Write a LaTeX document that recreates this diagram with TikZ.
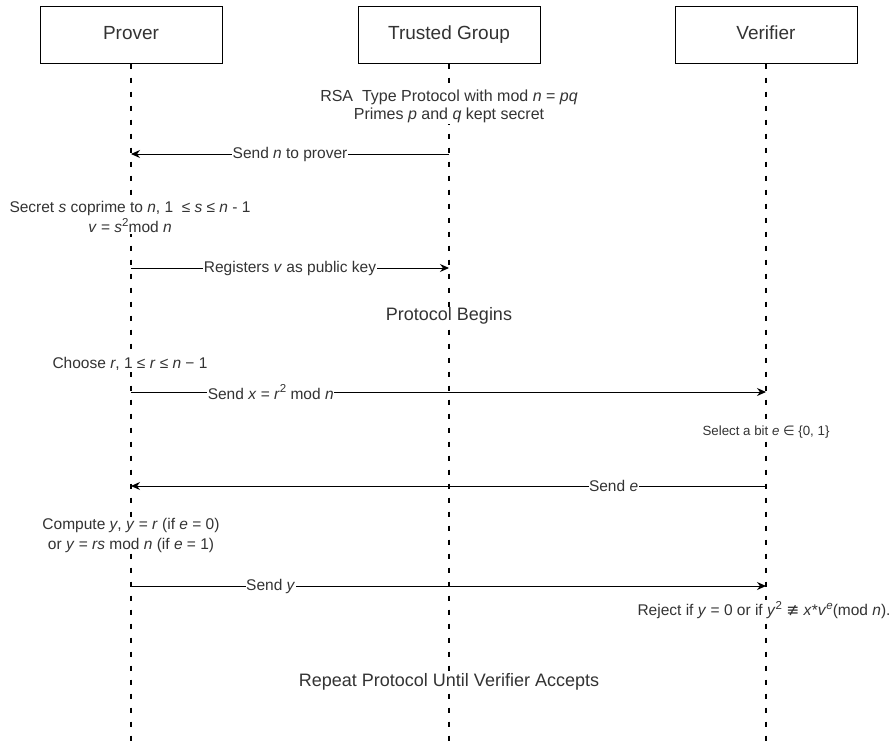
\documentclass[tikz,border=0pt]{standalone}
\usepackage{fontspec}
\setmainfont{Liberation Sans}
\newfontfamily\symfont{DejaVu Sans}
\usetikzlibrary{arrows.meta}
\definecolor{txtgray}{HTML}{333333}
\newcommand{\powr}[1]{\raisebox{0.42em}{\fontsize{11.5}{12}\selectfont #1}}

\tikzset{
	actor/.style={draw, line width=1pt, minimum width=182pt, minimum height=57pt,
		text height=14pt, text depth=4pt, text=txtgray, font=\fontsize{19}{22}\selectfont},
	lifeline/.style={line width=2pt, dash pattern=on 5pt off 9pt},
	msg/.style={line width=1pt, -{Stealth[length=9pt,width=8pt]}},
	msglabel/.style={fill=white, inner sep=0.5pt, text=txtgray,
		font=\fontsize{15.5}{18}\selectfont},
	note/.style={fill=white, align=center, inner sep=1pt, text=txtgray,
		font=\fontsize{15.5}{20}\selectfont},
	heading/.style={fill=white, inner sep=1pt, text=txtgray,
		font=\fontsize{18}{21}\selectfont}
}

\begin{document}
\begin{tikzpicture}[x=1pt, y=-1pt]
	\useasboundingbox (0,0) rectangle (896,747);
	% participants
	\node[actor] (prover) at (131,34.5) {Prover};
	\node[actor] (trusted) at (449,34.5) {Trusted Group};
	\node[actor] (verifier) at (766,34.5) {Verifier};
	\coordinate (proverend) at (131,747);
	\coordinate (trustedend) at (449,747);
	\coordinate (verifierend) at (766,747);
	\draw[lifeline] (prover) -- (proverend);
	\draw[lifeline] (trusted) -- (trustedend);
	\draw[lifeline] (verifier) -- (verifierend);
	% setup
	\node[note, font=\fontsize{16}{17.5}\selectfont] (rsa) at (449,106.5)
		{RSA\ \ Type Protocol with mod \textit{n} = \textit{pq}\\Primes \textit{p} and \textit{q} kept secret};
	\coordinate (t1) at (449,154);
	\coordinate (p1) at (131,154);
	\draw[msg] (t1) -- node[msglabel] {Send \textit{n} to prover} (p1);
	\node[note] (secret) at (130,217)
		{Secret \textit{s} coprime to \textit{n}, 1\ \ ≤ \textit{s} ≤ \textit{n} - 1\\\textit{v} = \textit{s}\powr{2}mod \textit{n}};
	\coordinate (p2) at (131,268);
	\coordinate (t2) at (449,268);
	\draw[msg] (p2) -- node[msglabel] {Registers \textit{v} as public key} (t2);
	\node[heading] (begins) at (449,316) {Protocol Begins};
	% one round
	\node[note] (choose) at (130,364) {Choose \textit{r}, 1 ≤ \textit{r} ≤ \textit{n} − 1};
	\coordinate (p3) at (131,392);
	\coordinate (v3) at (766,392);
	\draw[msg] (p3) -- node[msglabel, pos=0.22] {Send \textit{x} = \textit{r}\powr{2} mod \textit{n}} (v3);
	\node[note, font=\fontsize{13.3}{16}\selectfont] (select) at (766,432)
		{Select a bit \textit{e} {\symfont ∈} \{0, 1\}};
	\coordinate (v4) at (766,486);
	\coordinate (p4) at (131,486);
	\draw[msg] (v4) -- node[msglabel, pos=0.24] {Send \textit{e}} (p4);
	\node[note] (compute) at (131,535)
		{Compute \textit{y}, \textit{y} = \textit{r} (if \textit{e} = 0)\\or \textit{y} = \textit{rs} mod \textit{n} (if \textit{e} = 1)};
	\coordinate (p5) at (131,586);
	\coordinate (v5) at (766,586);
	\draw[msg] (p5) -- node[msglabel, pos=0.22] {Send \textit{y}} (v5);
	\node[note] (reject) at (764,610)
		{Reject if \textit{y} = 0 or if \textit{y}\powr{2} {\symfont ≢} \textit{x}*\textit{v}\powr{\textit{e}}(mod \textit{n}).};
	\node[heading] (repeat) at (449,682) {Repeat Protocol Until Verifier Accepts};
\end{tikzpicture}
\end{document}
